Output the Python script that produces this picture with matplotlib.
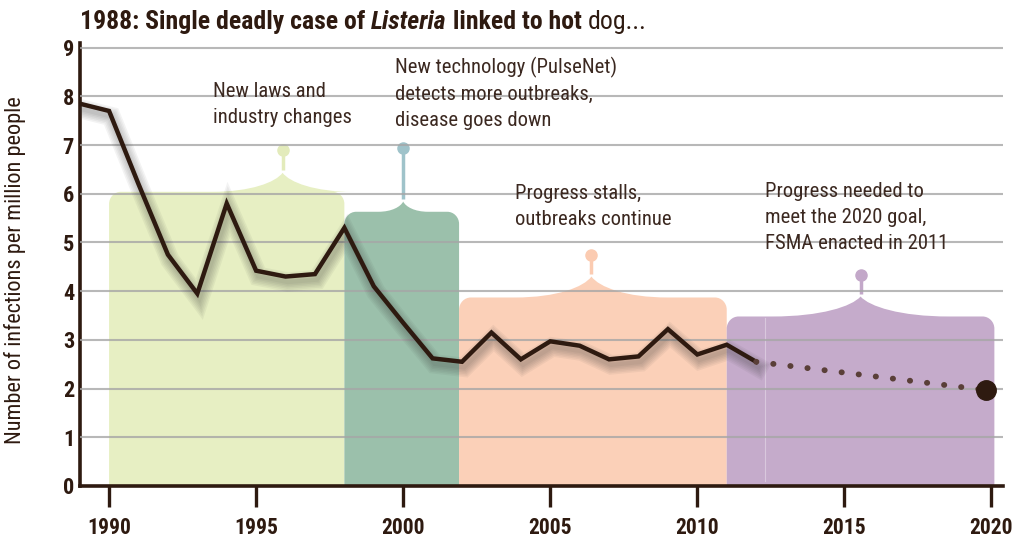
import matplotlib
matplotlib.use('Agg')
import matplotlib.pyplot as plt
import matplotlib.patheffects as pe
from matplotlib import font_manager
from matplotlib.path import Path
from matplotlib.patches import PathPatch

# rates of listeria infection per million people
years = [1989, 1990, 1991, 1992, 1993, 1994, 1995, 1996, 1997, 1998, 1999, 2000,
         2001, 2002, 2003, 2004, 2005, 2006, 2007, 2008, 2009, 2010, 2011, 2012]
rates = [7.85, 7.7, 6.2, 4.75, 3.95, 5.8, 4.42, 4.3, 4.35, 5.3, 4.1, 3.35,
         2.62, 2.55, 3.15, 2.6, 2.97, 2.88, 2.6, 2.66, 3.22, 2.7, 2.9, 2.55]
goal_year = [2012, 2019.8]
goal_rate = [2.55, 1.97]

# periods: start, end, height, brace centre, brace tip, lollipop top
periods = [
    (1990.0, 1998.0, 6.04, 1995.9, 6.43, 6.89),
    (1998.0, 2001.9, 5.63, 2000.0, 5.84, 6.93),
    (2001.9, 2011.0, 3.87, 2006.4, 4.30, 4.74),
    (2011.0, 2020.1, 3.48, 2015.55, 3.89, 4.33),
]
period_labels = ["New laws and\nindustry changes",
                 "New technology (PulseNet)\ndetects more outbreaks,\ndisease goes down",
                 "Progress stalls,\noutbreaks continue",
                 "Progress needed to\nmeet the 2020 goal,\nFSMA enacted in 2011"]
fill_colors = ['#e7efc3', '#9bc0ab', '#fbd0b8', '#c5abcb']
pin_colors = ['#e3ebbb', '#9fc3ca', '#fbcbb1', '#c3a8c9']
brace_half = [2.4, 0.85, 2.6, 3.0]

dark = '#2e1a10'
txt = '#3b2820'

# pick a narrow font if one is around
names = {f.name for f in font_manager.fontManager.ttflist}
font = 'Roboto'
for cand in ['Liberation Sans Narrow', 'Roboto Condensed', 'Open Sans Condensed',
             'DejaVu Sans Condensed', 'Noto Sans Condensed']:
    if cand in names:
        font = cand
        break
narrow = font != 'Roboto'
plt.rcParams['font.family'] = [font, 'DejaVu Sans']
k = 1.0 if narrow else 0.9

fig = plt.figure(figsize=(10.16, 5.38), dpi=100)
ax = fig.add_axes([0.0784, 0.0967, 0.909, 0.8238])
ax.set_xlim(1989, 2020.4)
ax.set_ylim(0, 9.1)


def brace_path(x0, x1, h, xc, tip, hw, rx=0.4, ry=0.25):
    d = tip - h
    verts = [(x0, 0), (x0, h - ry),
             (x0, h - ry * 0.45), (x0 + rx * 0.45, h), (x0 + rx, h),
             (xc - hw, h),
             (xc - hw * 0.45, h), (xc - hw * 0.1, h + d * 0.5), (xc, tip),
             (xc + hw * 0.1, h + d * 0.5), (xc + hw * 0.45, h), (xc + hw, h),
             (x1 - rx, h),
             (x1 - rx * 0.45, h), (x1, h - ry * 0.45), (x1, h - ry),
             (x1, 0), (x0, 0)]
    codes = [Path.MOVETO, Path.LINETO,
             Path.CURVE4, Path.CURVE4, Path.CURVE4,
             Path.LINETO,
             Path.CURVE4, Path.CURVE4, Path.CURVE4,
             Path.CURVE4, Path.CURVE4, Path.CURVE4,
             Path.LINETO,
             Path.CURVE4, Path.CURVE4, Path.CURVE4,
             Path.LINETO, Path.CLOSEPOLY]
    return Path(verts, codes)


for (x0, x1, h, xc, tip, top), fc, hw in zip(periods, fill_colors, brace_half):
    ax.add_patch(PathPatch(brace_path(x0, x1, h, xc, tip, hw), facecolor=fc,
                           edgecolor='none', zorder=1))

# pins above braces
for (x0, x1, h, xc, tip, top), pc in zip(periods, pin_colors):
    ax.plot([xc, xc], [tip + 0.06, top], color=pc, lw=2.5, zorder=2,
            solid_capstyle='butt')
    ax.plot([xc], [top], 'o', color=pc, ms=8, zorder=2)

# faint seam in the last region
ax.plot([2012.3, 2012.3], [0.1, 3.45], color='white', lw=0.8, alpha=0.35, zorder=1.5)

# grid
for yv in range(1, 10):
    ax.axhline(yv, color='#a6a6a6', lw=1.5, alpha=0.8, zorder=3)

# line with soft shadow
shadow = [pe.SimpleLineShadow(offset=(1.5, -4), shadow_color='#3a3a3a',
                              alpha=0.06, linewidth=3 + i * 2.2) for i in range(6)]
ax.plot(years, rates, color=dark, lw=3.2, zorder=5, solid_joinstyle='miter',
        path_effects=shadow + [pe.Normal()])
ax.plot(goal_year, goal_rate, color='#5a3f38', lw=4.2, zorder=5,
        linestyle=(0, (0.05, 2.9)), dash_capstyle='round')
ax.plot(goal_year[-1:], goal_rate[-1:], 'o', color=dark, ms=14, zorder=6)

# annotations
label_pos = [(1993.53, 8.3), (1999.72, 8.82), (2003.8, 6.2), (2012.3, 6.24)]
for (lx, ly), s in zip(label_pos, period_labels):
    ax.text(lx, ly, s, fontsize=14.9 * k, color=txt, ha='left', va='top',
            linespacing=1.48 / k, zorder=7)

# axes styling
for side in ['top', 'right']:
    ax.spines[side].set_visible(False)
for side in ['left', 'bottom']:
    ax.spines[side].set_color(dark)
    ax.spines[side].set_linewidth(2.6)
ax.set_xticks(range(1990, 2021, 5))
ax.set_yticks(range(0, 10))
ax.tick_params(axis='x', length=15, width=2.4, color=dark, pad=7,
               labelsize=15.5 * k, labelcolor=dark)
ax.tick_params(axis='y', length=0, pad=4, labelsize=16 * k, labelcolor=dark)
for lab in ax.get_xticklabels() + ax.get_yticklabels():
    lab.set_fontweight('bold')
ax.set_ylabel('Number of infections per million people', fontsize=16 * k, color=dark)
ax.yaxis.set_label_coords(-0.058, 0.487)

# title in mixed styles
renderer = fig.canvas.get_renderer()
parts = [("1988: Single deadly case of ", 'bold', 'normal'),
         ("Listeria", 'bold', 'italic'),
         (" linked to hot ", 'bold', 'normal'),
         ("dog...", 'normal', 'normal')]
x = 80
for s, w, st in parts:
    t = fig.text(x / 1016, 1 - 29 / 538, s, fontsize=18.5 * k, fontweight=w,
                 fontstyle=st, color=dark, va='baseline', ha='left')
    x += t.get_window_extent(renderer).width

fig.savefig('out.png', dpi=100)
